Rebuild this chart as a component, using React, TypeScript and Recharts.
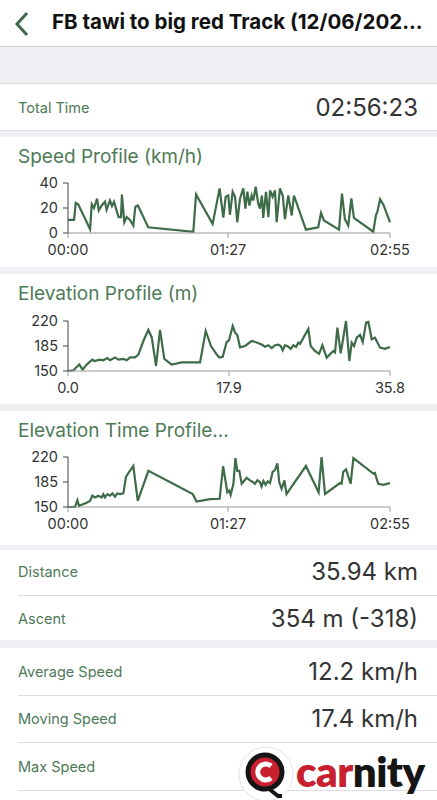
import { LineChart, Line, XAxis, YAxis } from 'recharts';

const GREEN = '#3e6b48';
const LABEL_GREEN = '#4d7a57';
const FONT = 'Inter, "Noto Sans", sans-serif';

// speed profile: minutes since start, km/h
const speedMinutes = [0, 3.3, 4.2, 5.6, 12, 12.9, 14.1, 15.8, 16.7, 18.3, 20.1, 21, 22.8, 23.9, 25, 26.1, 27.5, 28.8, 29.3, 30.6, 31.9, 33.7, 35.5, 36.6, 38, 43.6, 68.1, 69.6, 78.6, 82.4, 84.4, 85.7, 87.1, 88, 89.5, 90.8, 92, 93.5, 95.3, 96.4, 97.5, 98.6, 99.8, 100.7, 102, 103.4, 104.3, 105.4, 106.1, 107.6, 108.9, 109.8, 111.2, 112.5, 113.4, 115.2, 116.7, 117.9, 119.7, 121.6, 122.8, 129.3, 136, 137.5, 139.1, 147.3, 148.9, 150.5, 152.3, 154, 155.4, 165.9, 167.4, 168.1, 169.6, 171.4, 175];
const speedKmh = [10.5, 10.5, 24, 22.7, 3, 23, 20, 27.5, 18, 22, 25, 18.6, 26, 21.6, 25, 19.5, 12.7, 12.7, 30.8, 8.6, 12.7, 10.5, 6, 21, 22, 4.6, 1, 30.8, 7.3, 35.7, 12.3, 29, 30, 14.6, 33, 29, 8.6, 27.6, 35.7, 19.5, 33, 22, 30, 26, 37, 23.5, 19.5, 30, 12, 33, 12.7, 34, 29, 34, 8.6, 35.7, 30, 11, 30, 14, 30, 2.7, 4.6, 16, 10, 2.7, 31.6, 11, 6, 27.6, 12, 1, 14.6, 16.7, 27, 22.7, 8.6];

// elevation profile: km, m
const elevKm = [0, 0.6, 1.26, 1.63, 2.08, 2.7, 2.93, 3.56, 3.93, 4.37, 4.67, 5.23, 5.6, 6.15, 6.53, 6.9, 7.45, 7.82, 8.38, 8.93, 9.31, 9.79, 10.23, 10.71, 11.53, 12.64, 14.68, 15.31, 15.9, 16.54, 16.82, 17.2, 17.64, 17.9, 18.31, 18.57, 18.83, 19.13, 19.68, 20.42, 20.98, 21.54, 21.9, 22.28, 22.65, 23.02, 23.39, 23.65, 23.87, 24.13, 24.5, 24.76, 25.06, 25.35, 25.61, 25.8, 26.72, 26.98, 27.46, 27.91, 28.28, 28.76, 29.5, 29.69, 29.95, 30.32, 30.91, 31.28, 31.54, 31.8, 32.1, 32.47, 32.77, 33.14, 33.4, 33.77, 34.14, 34.69, 35.25, 35.8];
const elevM = [150, 151, 159, 152, 159, 166, 164, 166, 165, 168, 165, 169, 166, 167, 165, 169, 169, 173, 192, 207.5, 197, 157, 207.5, 167, 159, 162, 162, 206, 185, 173, 169, 170, 190.6, 193, 213, 204, 200, 183, 185, 192, 190, 187, 184, 186, 182, 186, 187, 185, 179, 186, 184, 181, 186, 183.6, 189.7, 188, 209, 185, 178, 174, 186, 168.7, 178, 176, 210.7, 174.8, 220, 164, 189.7, 185, 196.7, 200.5, 190.6, 217.8, 218.7, 194.4, 196.7, 182.7, 181, 183.6];

// elevation over time: minutes, m
const elevTimeMinutes = [0, 3.8, 5.1, 6, 7.4, 10.1, 12, 13.2, 14.7, 16.5, 18.3, 19.2, 20.1, 21.4, 22.8, 24.1, 25.5, 26.8, 28.3, 30.1, 31.5, 33.2, 35.5, 37.9, 43.7, 67.8, 69.9, 77.2, 82.4, 84.3, 86.6, 87.7, 88.4, 89.9, 91, 92, 93.1, 94.4, 97.1, 98.9, 100.4, 101.6, 102.9, 104.3, 105.2, 106.2, 107.4, 108.5, 109.8, 111.2, 112.5, 113.8, 114.8, 116.1, 117.6, 118.8, 120.7, 129.3, 136.2, 137.8, 139.7, 147.8, 148.7, 149.6, 151.1, 153.6, 155.1, 165.9, 166.8, 168.6, 171.4, 175];
const elevTimeM = [150, 150, 159.6, 151.4, 153, 156, 158.6, 165.8, 163.4, 165.8, 163.4, 168, 163.4, 168, 165.8, 169, 164.5, 169, 168, 169, 192, 199, 207.4, 158.6, 200.7, 168, 157.7, 161, 161.5, 207, 170.6, 173, 167, 182.5, 218.4, 200.7, 200.7, 182.5, 191, 187.3, 185, 182.5, 187.3, 185, 178.7, 186.4, 181, 186, 183.5, 199.3, 201.7, 211.2, 185, 175.4, 187.3, 168.2, 175.4, 207.4, 170.6, 219.9, 168.2, 183.5, 182.5, 199.3, 202.6, 182.5, 218.4, 196.9, 197.8, 182.5, 181, 183.5];

const timeTicks = [0, 87, 175];
const kmTicks = [0, 17.9, 35.8];
const speedTicks = [0, 20, 40];
const elevTicks = [150, 185, 220];

const fmtTime = (m: number) => {
  const h = Math.floor(m / 60);
  const mm = Math.round(m - h * 60);
  return `${String(h).padStart(2, '0')}:${String(mm).padStart(2, '0')}`;
};

const toRows = (xs: number[], ys: number[]) => xs.map((x, i) => ({ x, y: ys[i] }));

interface ProfileProps {
  top: number;
  data: { x: number; y: number }[];
  xDomain: [number, number];
  xTicks: number[];
  xFormat: (v: number) => string;
  yDomain: [number, number];
  yTicks: number[];
}

// plot area top sits at `top`
function Profile({ top, data, xDomain, xTicks, xFormat, yDomain, yTicks }: ProfileProps) {
  const tick = { fill: '#333', fontSize: 14.5, fontFamily: FONT };
  return (
    <div style={{ position: 'absolute', left: 0, top: top - 18 }}>
      <LineChart width={437} height={102} data={data} margin={{ top: 18, right: 47, bottom: 0, left: 0 }}>
        <XAxis
          dataKey="x"
          type="number"
          domain={xDomain}
          ticks={xTicks}
          tickFormatter={xFormat}
          tick={tick}
          stroke="#999"
          tickSize={5}
          tickMargin={7}
          height={34}
          interval={0}
        />
        <YAxis
          type="number"
          domain={yDomain}
          ticks={yTicks}
          tick={tick}
          stroke="#444"
          tickSize={5}
          tickMargin={5}
          width={68}
          interval={0}
        />
        <Line
          type="linear"
          dataKey="y"
          stroke={GREEN}
          strokeWidth={2.2}
          dot={false}
          isAnimationActive={false}
        />
      </LineChart>
    </div>
  );
}

const box = (top: number, height: number, bg = '#fff') => ({
  position: 'absolute' as const,
  left: 0,
  top,
  width: 437,
  height,
  background: bg,
});

function Row({ top, label, value }: { top: number; label: string; value: string }) {
  return (
    <>
      <div style={{ position: 'absolute', left: 18, top: top - 8, fontSize: 14.5, color: LABEL_GREEN }}>{label}</div>
      <div style={{ position: 'absolute', right: 19, top: top - 14, fontSize: 24, color: '#333' }}>{value}</div>
    </>
  );
}

function Title({ top, text }: { top: number; text: string }) {
  return <div style={{ position: 'absolute', left: 18, top: top - 11, fontSize: 19, color: LABEL_GREEN }}>{text}</div>;
}

export default function App() {
  return (
    <div style={{ position: 'absolute', left: 0, top: 0, width: 437, height: 800, background: '#efeff4', fontFamily: FONT, overflow: 'hidden' }}>
      <div style={{ ...box(0, 46), borderBottom: '1px solid #cfcfd3' }} />
      <svg style={{ position: 'absolute', left: 12, top: 11 }} width={20} height={26}>
        <polyline points="15,2 5,13 15,24" fill="none" stroke={GREEN} strokeWidth={3} />
      </svg>
      <div style={{ position: 'absolute', left: 52, top: 9, fontSize: 20.5, fontWeight: 700, color: '#111', whiteSpace: 'nowrap' }}>
        FB tawi to big red Track (12/06/202...
      </div>

      <div style={{ ...box(83, 46), borderTop: '1px solid #dcdce0', borderBottom: '1px solid #dcdce0' }} />
      <Row top={107} label="Total Time" value="02:56:23" />

      <div style={box(137, 130)} />
      <Title top={156} text="Speed Profile (km/h)" />
      <Profile top={183} data={toRows(speedMinutes, speedKmh)} xDomain={[0, 175]} xTicks={timeTicks} xFormat={fmtTime} yDomain={[0, 40]} yTicks={speedTicks} />

      <div style={box(274, 130)} />
      <Title top={293} text="Elevation Profile (m)" />
      <Profile top={321} data={toRows(elevKm, elevM)} xDomain={[0, 35.8]} xTicks={kmTicks} xFormat={(v) => v.toFixed(1)} yDomain={[150, 220]} yTicks={elevTicks} />

      <div style={box(411, 134)} />
      <Title top={430} text="Elevation Time Profile..." />
      <Profile top={457} data={toRows(elevTimeMinutes, elevTimeM)} xDomain={[0, 175]} xTicks={timeTicks} xFormat={fmtTime} yDomain={[150, 220]} yTicks={elevTicks} />

      <div style={box(550, 90)} />
      <Row top={571} label="Distance" value="35.94 km" />
      <div style={{ position: 'absolute', left: 18, top: 595, width: 419, height: 1, background: '#dcdce0' }} />
      <Row top={618} label="Ascent" value="354 m (-318)" />

      <div style={box(648, 152)} />
      <Row top={671} label="Average Speed" value="12.2 km/h" />
      <div style={{ position: 'absolute', left: 18, top: 695, width: 419, height: 1, background: '#dcdce0' }} />
      <Row top={718} label="Moving Speed" value="17.4 km/h" />
      <div style={{ position: 'absolute', left: 18, top: 742, width: 419, height: 1, background: '#dcdce0' }} />
      <Row top={766} label="Max Speed" value="" />
      <div style={{ position: 'absolute', left: 18, top: 790, width: 419, height: 1, background: '#dcdce0' }} />

      <svg style={{ position: 'absolute', left: 238, top: 746 }} width={56} height={56}>
        <circle cx={28} cy={28} r={27} fill="#fff" stroke="#e4e4e4" />
        <circle cx={27} cy={26} r={17} fill="#c8202f" stroke="#151515" strokeWidth={5} />
        <path d="M33,20 A8,8 0 1 0 33,32" fill="none" stroke="#fff" strokeWidth={5} />
        <polyline points="30,42 40,50 44,50" fill="none" stroke="#151515" strokeWidth={4} />
      </svg>
      <div style={{ position: 'absolute', left: 296, top: 746, fontSize: 42, fontWeight: 800, letterSpacing: -0.5, fontFamily: 'Lato, Inter, sans-serif' }}>
        <span style={{ color: '#c8202f' }}>car</span>
        <span style={{ color: '#151515' }}>nity</span>
      </div>
    </div>
  );
}
